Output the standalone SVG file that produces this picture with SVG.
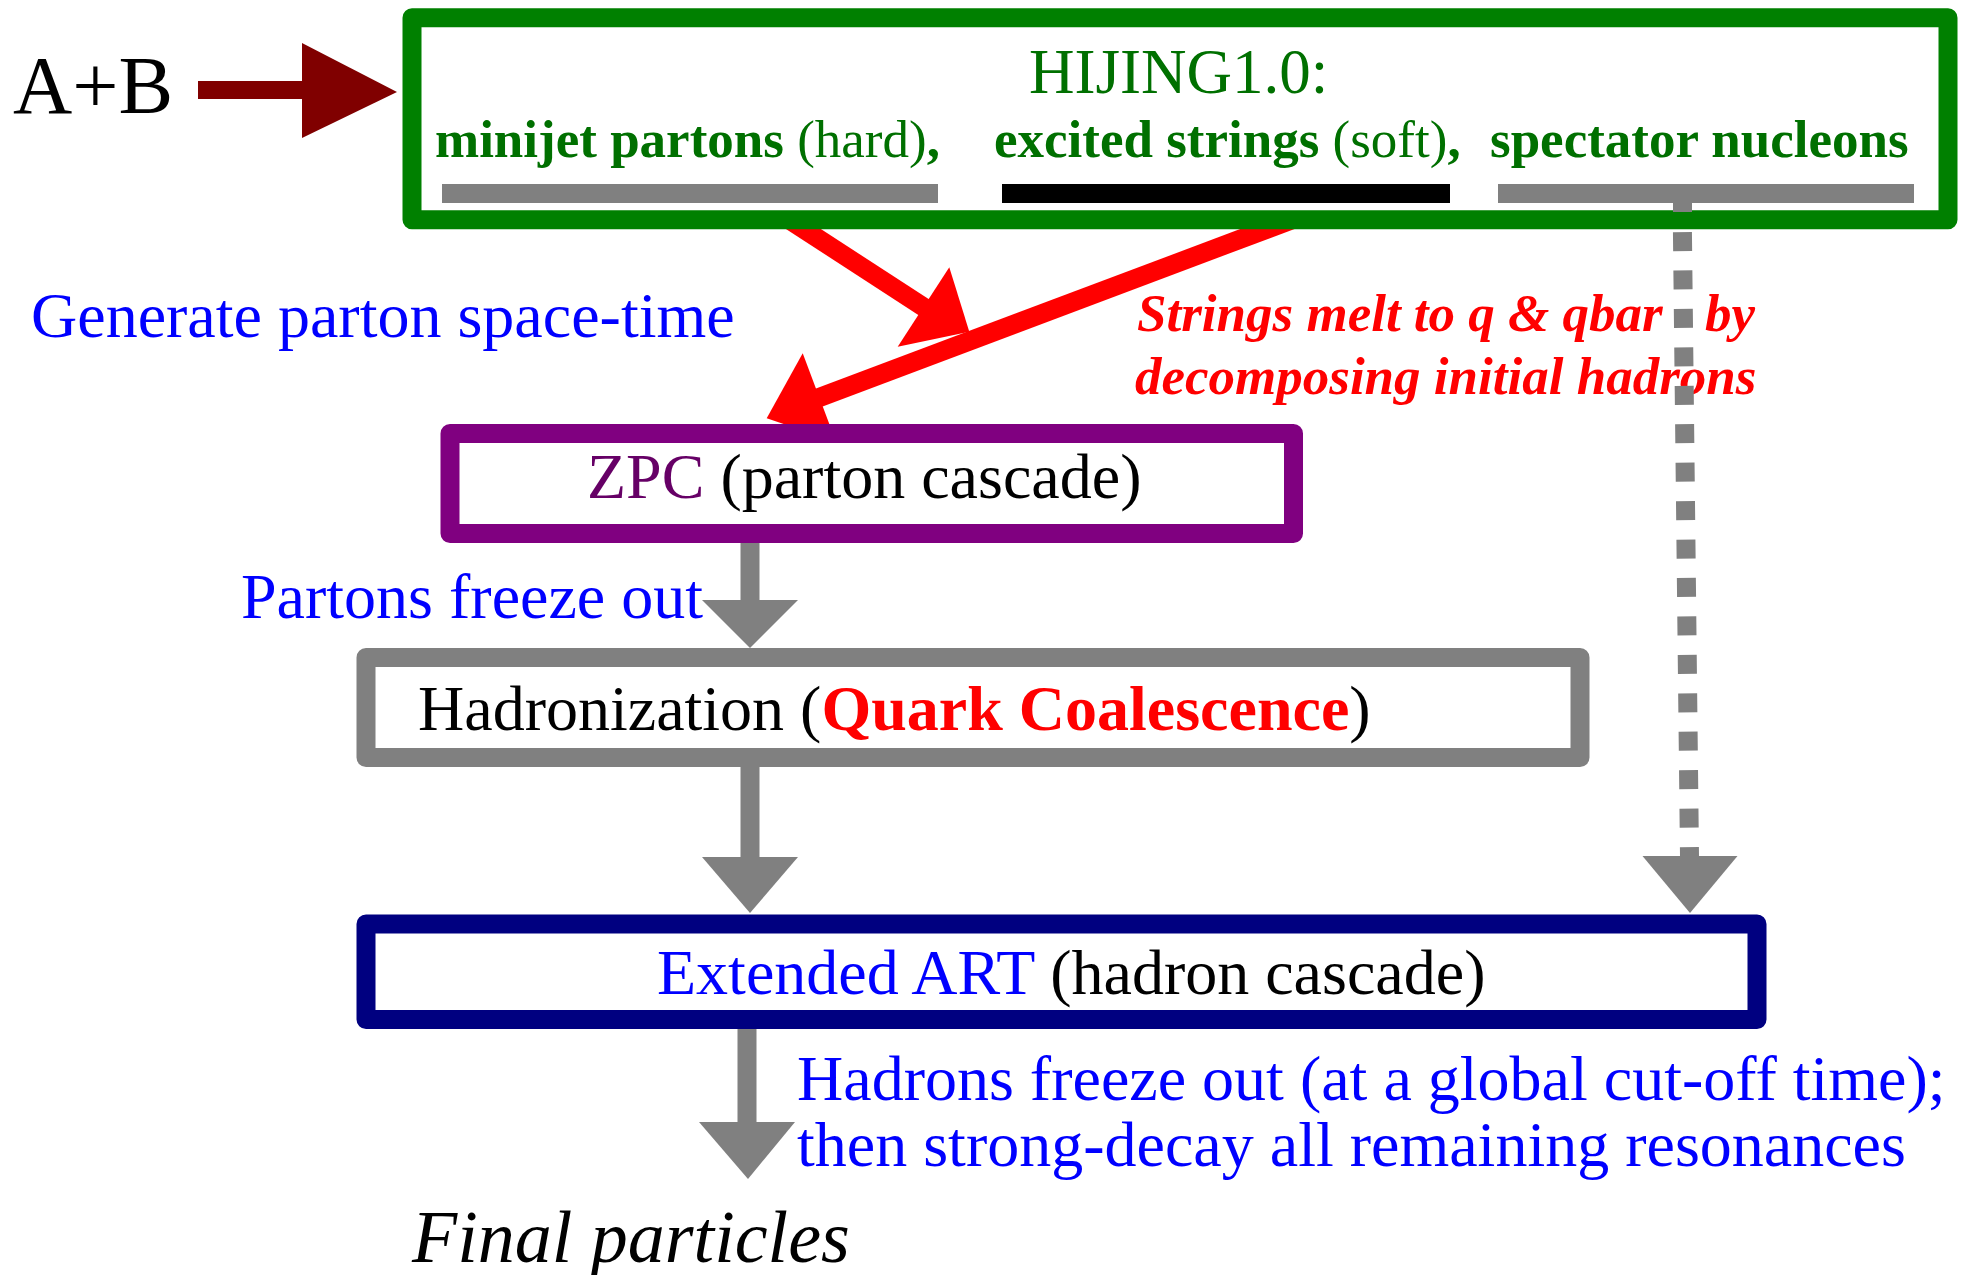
<svg xmlns="http://www.w3.org/2000/svg" width="1965" height="1275" viewBox="0 0 1965 1275">
<defs>
<style>
text { font-family: "Liberation Serif", "Times New Roman", serif; }
.box { fill: #ffffff; stroke-width: 19; stroke-linejoin: round; }
.blue { fill: #0000ff; font-size: 64px; }
.grn { fill: #007000; font-size: 53px; }
.b { font-weight: bold; }
.red { fill: #ff0000; }
.gshaft { stroke: #808080; stroke-width: 19; fill: none; }
.ghead { fill: #808080; }
.rshaft { stroke: #ff0000; stroke-width: 19; fill: none; }
.rhead { fill: #ff0000; }
.lbl { font-size: 64px; fill: #000000; }
</style>
</defs>
<rect x="0" y="0" width="1965" height="1275" fill="#ffffff"/>

<g id="labels">
<text x="13" y="113" font-size="82" fill="#000000">A+B</text>
<text class="blue" x="31" y="337">Generate parton space-time</text>
<text class="blue" x="241" y="618">Partons freeze out</text>
<text class="red" x="1137" y="331" font-size="53" font-weight="bold" font-style="italic">Strings melt to q &amp; qbar<tspan x="1705">by</tspan></text>
<text class="red" x="1135" y="394" font-size="53" font-weight="bold" font-style="italic">decomposing initial hadrons</text>
<text class="blue" x="797" y="1100">Hadrons freeze out (at a global cut-off time);</text>
<text class="blue" x="797" y="1166">then strong-decay all remaining resonances</text>
<text x="412" y="1262" font-size="74" font-style="italic" fill="#000000">Final particles</text>
</g>

<g id="connectors">
<g id="ab-arrow">
<rect x="198" y="81" width="106" height="18" fill="#800000"/>
<polygon points="302,43 397,92 302,138" fill="#800000"/>
</g>
<g id="minijet-to-zpc">
<line class="rshaft" x1="748" y1="193" x2="925" y2="308"/>
<polygon class="rhead" points="949.3,267.3 969.3,331.7 897.7,346.7"/>
</g>
<g id="strings-to-zpc">
<line class="rshaft" x1="1363" y1="193" x2="818" y2="398"/>
<polygon class="rhead" points="802.7,353.3 766.7,418.3 836,441.7"/>
</g>
<g id="spectator-to-art">
<line stroke="#808080" stroke-width="19" stroke-dasharray="19 19.44" x1="1682" y1="193.6" x2="1689.5" y2="856"/>
<polygon class="ghead" points="1642.5,856 1737.5,856 1690,913"/>
</g>
<g id="zpc-to-had">
<line class="gshaft" x1="750" y1="533" x2="750" y2="601"/>
<polygon class="ghead" points="702,600 798,600 750,648"/>
</g>
<g id="had-to-art">
<line class="gshaft" x1="750" y1="757" x2="750" y2="858"/>
<polygon class="ghead" points="702,857 798,857 750,913"/>
</g>
<g id="art-to-final">
<line class="gshaft" x1="747" y1="1019" x2="747" y2="1123"/>
<polygon class="ghead" points="699,1122 795,1122 748,1179"/>
</g>
</g>

<g id="hijing">
<rect class="box" x="412" y="17.8" width="1536" height="202" stroke="#008000"/>
<rect x="442" y="184" width="496" height="19" fill="#808080"/>
<rect x="1002" y="184" width="448" height="19" fill="#000000"/>
<rect x="1498" y="184" width="416" height="19" fill="#808080"/>
<rect x="1673" y="200" width="19" height="12" fill="#808080"/>
<text x="1029" y="93" font-size="63" fill="#007000">HIJING1.0:</text>
<text class="grn" x="435" y="157"><tspan class="b">minijet partons</tspan> (hard)<tspan class="b">,</tspan></text>
<text class="grn" x="994" y="157"><tspan class="b">excited strings</tspan> (soft)<tspan class="b">,</tspan></text>
<text class="grn b" x="1490" y="157">spectator nucleons</text>
</g>

<g id="zpc">
<rect class="box" x="450" y="433.5" width="843.5" height="100" stroke="#800080"/>
<text class="lbl" x="587" y="498"><tspan fill="#660066">ZPC</tspan> (parton cascade)</text>
</g>

<g id="hadronization">
<rect class="box" x="366" y="657.5" width="1214" height="100" stroke="#808080"/>
<text class="lbl" x="418" y="730">Hadronization (<tspan class="b red">Quark Coalescence</tspan>)</text>
</g>

<g id="art">
<rect class="box" x="366" y="924" width="1391" height="95.5" stroke="#000080"/>
<text class="lbl" x="657" y="994"><tspan fill="#0000ff">Extended ART</tspan> (hadron cascade)</text>
</g>
</svg>
